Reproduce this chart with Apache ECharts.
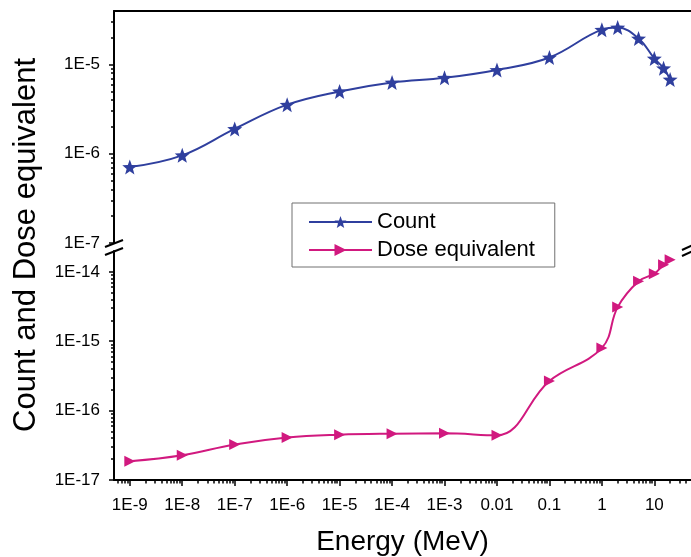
<!DOCTYPE html>
<html>
<head>
<meta charset="utf-8">
<script src="https://cdn.jsdelivr.net/npm/echarts@6/dist/echarts.min.js"></script>
<style>
html, body { margin: 0; padding: 0; background: #fff; }
#chart { width: 691px; height: 557px; }
</style>
</head>
<body>
<div id="chart"></div>
<script>
// energy (MeV) and the two curves
const energy = [1e-9, 1e-8, 1e-7, 1e-6, 1e-5, 1e-4, 1e-3, 0.01, 0.1, 1, 2, 5, 10, 15, 20];
const countVals = [7.1e-7, 9.6e-7, 1.9e-6, 3.55e-6, 5.0e-6, 6.3e-6, 7.1e-6, 8.7e-6, 1.2e-5, 2.46e-5, 2.6e-5, 1.96e-5, 1.17e-5, 9.1e-6, 6.8e-6];
const doseVals = [1.86e-17, 2.27e-17, 3.25e-17, 4.1e-17, 4.5e-17, 4.65e-17, 4.7e-17, 4.4e-17, 2.68e-16, 8.0e-16, 3.1e-15, 7.3e-15, 9.4e-15, 1.26e-14, 1.49e-14];

// tick labels
const xTicks = [1e-9, 1e-8, 1e-7, 1e-6, 1e-5, 1e-4, 1e-3, 0.01, 0.1, 1, 10];
const xTickLabels = ['1E-9', '1E-8', '1E-7', '1E-6', '1E-5', '1E-4', '1E-3', '0.01', '0.1', '1', '10'];
const yTopTicks = [1e-7, 1e-6, 1e-5];
const yTopLabels = ['1E-7', '1E-6', '1E-5'];
const yBotTicks = [1e-17, 1e-16, 1e-15, 1e-14];
const yBotLabels = ['1E-17', '1E-16', '1E-15', '1E-14'];

const xRange = [5e-10, 50];
const yTopRange = [1e-7, Math.pow(10, -4.4)];
const yBotRange = [1e-17, Math.pow(10, -13.7)];

const FONT = 'Liberation Sans, Arial, sans-serif';
const STAR = 'path://M10,0 L12.47,6.6 L19.51,6.91 L13.99,11.3 L15.88,18.09 L10,14.2 L4.12,18.09 L6.01,11.3 L0.49,6.91 L7.53,6.6 Z';
const TRI = 'path://M0,0 L10,5 L0,10 Z';

// 2..9 x 10^n inside a range, for the short ticks
function minors(r) {
    const out = [];
    for (let d = Math.floor(Math.log10(r[0])); d <= Math.ceil(Math.log10(r[1])); d++) {
        for (let k = 2; k <= 9; k++) {
            const v = k * Math.pow(10, d);
            if (v > r[0] && v < r[1]) out.push(v);
        }
    }
    return out;
}
function pick(ticks, labels) {
    return function (v) {
        const i = ticks.findIndex(t => Math.abs(Math.log10(t) - Math.log10(v)) < 1e-6);
        return i < 0 ? '' : labels[i];
    };
}

const line = { lineStyle: { color: '#000', width: 2 } };
const tick = { color: '#000', width: 1.5 };

function mainY(grid, r, ticks, labels) {
    return {
        type: 'log', gridIndex: grid, position: 'left', min: r[0], max: r[1],
        axisLine: line, splitLine: { show: false },
        axisTick: { customValues: ticks, length: 5, lineStyle: tick },
        axisLabel: { customValues: ticks, formatter: pick(ticks, labels), fontSize: 17, fontFamily: FONT, color: '#000', margin: 14 }
    };
}
function minorY(grid, r) {
    return {
        type: 'log', gridIndex: grid, position: 'left', offset: 0, min: r[0], max: r[1],
        axisLine: { show: false }, splitLine: { show: false },
        axisTick: { customValues: minors(r), length: 3, lineStyle: tick },
        axisLabel: { show: false }
    };
}

const myChart = echarts.init(document.getElementById('chart'));
myChart.setOption({
    animation: false,
    grid: [
        { left: 114, right: -2, top: 11, bottom: 314 },
        { left: 114, right: -2, top: 251, bottom: 75 }
    ],
    xAxis: [
        {
            type: 'log', gridIndex: 0, position: 'top', min: xRange[0], max: xRange[1],
            axisLine: line, axisTick: { show: false }, axisLabel: { show: false }, splitLine: { show: false }
        },
        {
            type: 'log', gridIndex: 1, position: 'bottom', min: xRange[0], max: xRange[1],
            axisLine: line, splitLine: { show: false },
            axisTick: { customValues: xTicks, length: 6, lineStyle: tick },
            axisLabel: { customValues: xTicks, formatter: pick(xTicks, xTickLabels), fontSize: 17, fontFamily: FONT, color: '#000', margin: 17 },
            name: 'Energy (MeV)', nameLocation: 'middle', nameGap: 48,
            nameTextStyle: { fontSize: 28, fontFamily: FONT, color: '#000' }
        },
        {
            type: 'log', gridIndex: 1, position: 'bottom', offset: 0, min: xRange[0], max: xRange[1],
            axisLine: { show: false }, splitLine: { show: false },
            axisTick: { customValues: minors(xRange), length: 3.5, lineStyle: tick },
            axisLabel: { show: false }
        }
    ],
    yAxis: [
        mainY(0, yTopRange, yTopTicks, yTopLabels),
        minorY(0, yTopRange),
        mainY(1, yBotRange, yBotTicks, yBotLabels),
        minorY(1, yBotRange)
    ],
    legend: {
        orient: 'vertical', left: 292, top: 203, z: 10,
        backgroundColor: '#fff',
        borderColor: '#707070', borderWidth: 1, borderRadius: 0,
        padding: [8, 20, 6, 16], itemGap: 6, itemWidth: 63, itemHeight: 15,
        textStyle: { fontSize: 22, fontFamily: FONT, color: '#000' },
        data: ['Count', 'Dose equivalent']
    },
    series: [
        {
            name: 'Count', type: 'line', xAxisIndex: 0, yAxisIndex: 0,
            data: energy.map((e, i) => [e, countVals[i]]),
            smooth: 0.4, symbol: STAR, symbolSize: 15,
            lineStyle: { color: '#2F3F9E', width: 2 },
            itemStyle: { color: '#2F3F9E' }
        },
        {
            name: 'Dose equivalent', type: 'line', xAxisIndex: 1, yAxisIndex: 2,
            data: energy.map((e, i) => [e, doseVals[i]]),
            smooth: 0.4, symbol: TRI, symbolSize: 11,
            lineStyle: { color: '#D1197F', width: 2 },
            itemStyle: { color: '#D1197F' }
        }
    ],
    graphic: [
        {
            type: 'text', x: 26, y: 245, rotation: Math.PI / 2,
            style: { text: 'Count and Dose equivalent', fontSize: 31, fontFamily: FONT, fill: '#000', align: 'center', verticalAlign: 'middle' }
        },
        { type: 'line', shape: { x1: 105, y1: 247, x2: 123, y2: 240 }, style: { stroke: '#000', lineWidth: 2 } },
        { type: 'line', shape: { x1: 105, y1: 255, x2: 123, y2: 248 }, style: { stroke: '#000', lineWidth: 2 } },
        { type: 'line', shape: { x1: 682, y1: 250, x2: 693, y2: 245 }, style: { stroke: '#000', lineWidth: 2 } },
        { type: 'line', shape: { x1: 682, y1: 256, x2: 693, y2: 251 }, style: { stroke: '#000', lineWidth: 2 } }
    ]
});
</script>
</body>
</html>
